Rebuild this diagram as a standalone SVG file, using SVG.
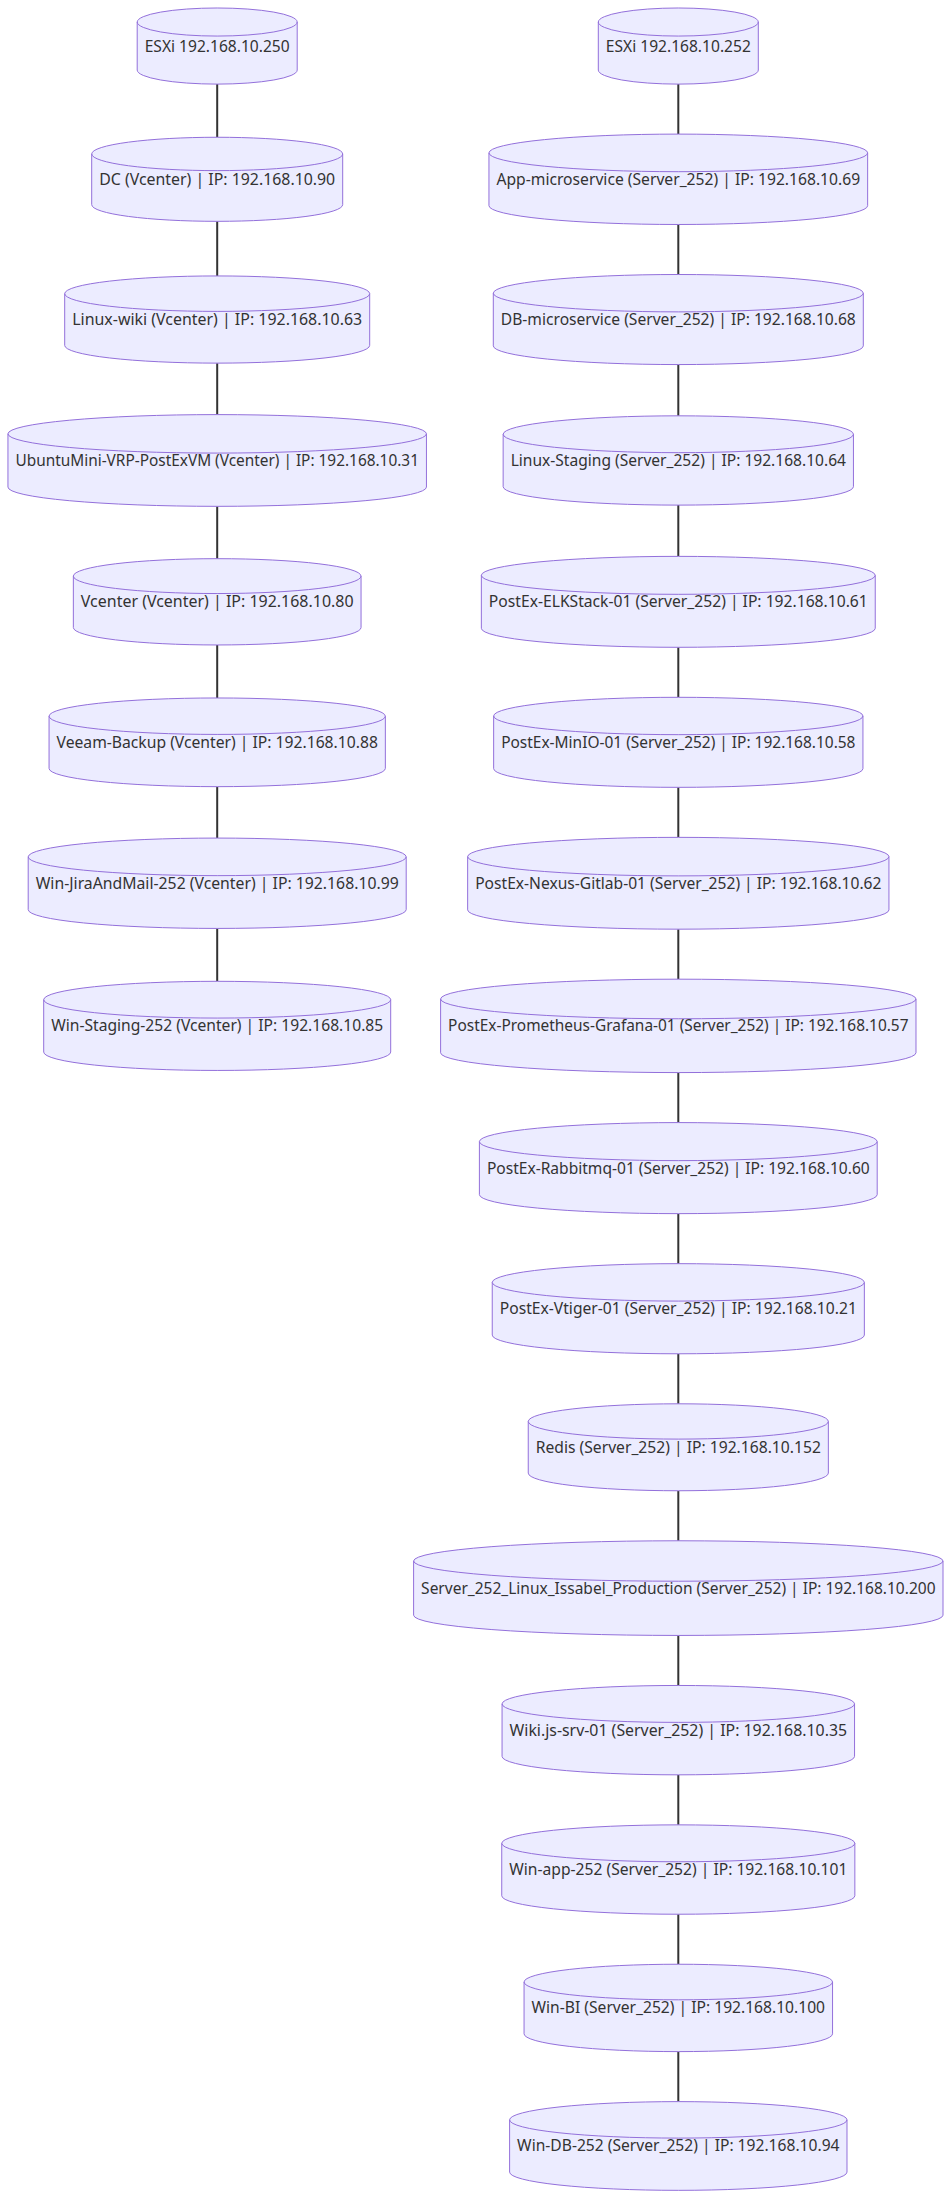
<svg xmlns="http://www.w3.org/2000/svg" width="951" height="2198" viewBox="0 0 951 2198">
<style>
.node path{fill:#ECECFF;stroke:#9370DB;stroke-width:1px}
.node text{font-family:"Noto Sans","Open Sans",sans-serif;font-size:16px;fill:#333333;text-anchor:middle}
.edges line{stroke:#333333;stroke-width:2px;fill:none}
</style>
<rect width="951" height="2198" fill="#ffffff"/>
<g class="edges">
<line x1="217.2" y1="84.1" x2="217.2" y2="137.3"/>
<line x1="217.2" y1="221.3" x2="217.2" y2="275.9"/>
<line x1="217.2" y1="363.1" x2="217.2" y2="414.6"/>
<line x1="217.2" y1="506.4" x2="217.2" y2="558.7"/>
<line x1="217.2" y1="645" x2="217.2" y2="698"/>
<line x1="217.2" y1="786.7" x2="217.2" y2="838.1"/>
<line x1="217.2" y1="928.5" x2="217.2" y2="981.3"/>
<line x1="678.3" y1="84.1" x2="678.3" y2="134.1"/>
<line x1="678.3" y1="224.5" x2="678.3" y2="274.5"/>
<line x1="678.3" y1="364.6" x2="678.3" y2="415.8"/>
<line x1="678.3" y1="505.1" x2="678.3" y2="556.4"/>
<line x1="678.3" y1="647.3" x2="678.3" y2="697.3"/>
<line x1="678.3" y1="787.3" x2="678.3" y2="837.3"/>
<line x1="678.3" y1="929.2" x2="678.3" y2="979.2"/>
<line x1="678.3" y1="1072.6" x2="678.3" y2="1122.6"/>
<line x1="678.3" y1="1213.7" x2="678.3" y2="1263.7"/>
<line x1="678.3" y1="1353.8" x2="678.3" y2="1403.8"/>
<line x1="678.3" y1="1490.8" x2="678.3" y2="1540.8"/>
<line x1="678.3" y1="1635.4" x2="678.3" y2="1685.5"/>
<line x1="678.3" y1="1774.8" x2="678.3" y2="1824.9"/>
<line x1="678.3" y1="1914.2" x2="678.3" y2="1964.2"/>
<line x1="678.3" y1="2051.6" x2="678.3" y2="2101.6"/>
</g>
<g class="node" id="esxi250" transform="translate(217.2,46.05)"><path d="M-80,-24.02a80,14.04 0 0 0 160,0a80,14.04 0 0 0 -160,0l0,48.04a80,14.04 0 0 0 160,0l0,-48.04"/><text y="5.5" textLength="145" lengthAdjust="spacingAndGlyphs">ESXi 192.168.10.250</text></g>
<g class="node" id="dc" transform="translate(217.2,179.3)"><path d="M-125.5,-25.35a125.5,16.69 0 0 0 251,0a125.5,16.69 0 0 0 -251,0l0,50.69a125.5,16.69 0 0 0 251,0l0,-50.69"/><text y="5.5" textLength="236" lengthAdjust="spacingAndGlyphs">DC (Vcenter) | IP: 192.168.10.90</text></g>
<g class="node" id="linuxwiki" transform="translate(217.2,319.54)"><path d="M-152.5,-25.87a152.5,17.73 0 0 0 305,0a152.5,17.73 0 0 0 -305,0l0,51.73a152.5,17.73 0 0 0 305,0l0,-51.73"/><text y="5.5" textLength="290" lengthAdjust="spacingAndGlyphs">Linux-wiki (Vcenter) | IP: 192.168.10.63</text></g>
<g class="node" id="ubuntumini" transform="translate(217.2,460.47)"><path d="M-209.25,-26.63a209.25,19.25 0 0 0 418.5,0a209.25,19.25 0 0 0 -418.5,0l0,53.25a209.25,19.25 0 0 0 418.5,0l0,-53.25"/><text y="5.5" textLength="403.5" lengthAdjust="spacingAndGlyphs">UbuntuMini-VRP-PostExVM (Vcenter) | IP: 192.168.10.31</text></g>
<g class="node" id="vcenter" transform="translate(217.2,601.83)"><path d="M-143.85,-25.72a143.85,17.43 0 0 0 287.7,0a143.85,17.43 0 0 0 -287.7,0l0,51.43a143.85,17.43 0 0 0 287.7,0l0,-51.43"/><text y="5.5" textLength="272.7" lengthAdjust="spacingAndGlyphs">Vcenter (Vcenter) | IP: 192.168.10.80</text></g>
<g class="node" id="veeam" transform="translate(217.2,742.32)"><path d="M-168.15,-26.12a168.15,18.23 0 0 0 336.3,0a168.15,18.23 0 0 0 -336.3,0l0,52.23a168.15,18.23 0 0 0 336.3,0l0,-52.23"/><text y="5.5" textLength="321.3" lengthAdjust="spacingAndGlyphs">Veeam-Backup (Vcenter) | IP: 192.168.10.88</text></g>
<g class="node" id="winjira" transform="translate(217.2,883.26)"><path d="M-189,-26.4a189,18.79 0 0 0 378,0a189,18.79 0 0 0 -378,0l0,52.79a189,18.79 0 0 0 378,0l0,-52.79"/><text y="5.5" textLength="363" lengthAdjust="spacingAndGlyphs">Win-JiraAndMail-252 (Vcenter) | IP: 192.168.10.99</text></g>
<g class="node" id="winstaging" transform="translate(217.2,1025.88)"><path d="M-173.5,-26.19a173.5,18.38 0 0 0 347,0a173.5,18.38 0 0 0 -347,0l0,52.38a173.5,18.38 0 0 0 347,0l0,-52.38"/><text y="5.5" textLength="332" lengthAdjust="spacingAndGlyphs">Win-Staging-252 (Vcenter) | IP: 192.168.10.85</text></g>
<g class="node" id="esxi252" transform="translate(678.3,46.05)"><path d="M-80,-24.02a80,14.04 0 0 0 160,0a80,14.04 0 0 0 -160,0l0,48.04a80,14.04 0 0 0 160,0l0,-48.04"/><text y="5.5" textLength="145" lengthAdjust="spacingAndGlyphs">ESXi 192.168.10.252</text></g>
<g class="node" id="appmicro" transform="translate(678.3,179.3)"><path d="M-189.35,-26.4a189.35,18.8 0 0 0 378.7,0a189.35,18.8 0 0 0 -378.7,0l0,52.8a189.35,18.8 0 0 0 378.7,0l0,-52.8"/><text y="5.5" textLength="363.7" lengthAdjust="spacingAndGlyphs">App-microservice (Server_252) | IP: 192.168.10.69</text></g>
<g class="node" id="dbmicro" transform="translate(678.3,319.54)"><path d="M-185,-26.35a185,18.69 0 0 0 370,0a185,18.69 0 0 0 -370,0l0,52.69a185,18.69 0 0 0 370,0l0,-52.69"/><text y="5.5" textLength="355" lengthAdjust="spacingAndGlyphs">DB-microservice (Server_252) | IP: 192.168.10.68</text></g>
<g class="node" id="linuxstaging" transform="translate(678.3,460.47)"><path d="M-175.15,-26.22a175.15,18.43 0 0 0 350.3,0a175.15,18.43 0 0 0 -350.3,0l0,52.43a175.15,18.43 0 0 0 350.3,0l0,-52.43"/><text y="5.5" textLength="335.3" lengthAdjust="spacingAndGlyphs">Linux-Staging (Server_252) | IP: 192.168.10.64</text></g>
<g class="node" id="elk" transform="translate(678.3,601.83)"><path d="M-196.95,-26.49a196.95,18.98 0 0 0 393.9,0a196.95,18.98 0 0 0 -393.9,0l0,52.98a196.95,18.98 0 0 0 393.9,0l0,-52.98"/><text y="5.5" textLength="378.9" lengthAdjust="spacingAndGlyphs">PostEx-ELKStack-01 (Server_252) | IP: 192.168.10.61</text></g>
<g class="node" id="minio" transform="translate(678.3,742.32)"><path d="M-184.65,-26.34a184.65,18.68 0 0 0 369.3,0a184.65,18.68 0 0 0 -369.3,0l0,52.68a184.65,18.68 0 0 0 369.3,0l0,-52.68"/><text y="5.5" textLength="354.3" lengthAdjust="spacingAndGlyphs">PostEx-MinIO-01 (Server_252) | IP: 192.168.10.58</text></g>
<g class="node" id="nexus" transform="translate(678.3,883.26)"><path d="M-210.65,-26.64a210.65,19.28 0 0 0 421.3,0a210.65,19.28 0 0 0 -421.3,0l0,53.28a210.65,19.28 0 0 0 421.3,0l0,-53.28"/><text y="5.5" textLength="406.3" lengthAdjust="spacingAndGlyphs">PostEx-Nexus-Gitlab-01 (Server_252) | IP: 192.168.10.62</text></g>
<g class="node" id="prometheus" transform="translate(678.3,1025.88)"><path d="M-237.7,-26.9a237.7,19.8 0 0 0 475.4,0a237.7,19.8 0 0 0 -475.4,0l0,53.8a237.7,19.8 0 0 0 475.4,0l0,-53.8"/><text y="5.5" textLength="460.4" lengthAdjust="spacingAndGlyphs">PostEx-Prometheus-Grafana-01 (Server_252) | IP: 192.168.10.57</text></g>
<g class="node" id="rabbitmq" transform="translate(678.3,1168.12)"><path d="M-198.9,-26.51a198.9,19.02 0 0 0 397.8,0a198.9,19.02 0 0 0 -397.8,0l0,53.02a198.9,19.02 0 0 0 397.8,0l0,-53.02"/><text y="5.5" textLength="382.8" lengthAdjust="spacingAndGlyphs">PostEx-Rabbitmq-01 (Server_252) | IP: 192.168.10.60</text></g>
<g class="node" id="vtiger" transform="translate(678.3,1308.73)"><path d="M-186.05,-26.36a186.05,18.71 0 0 0 372.1,0a186.05,18.71 0 0 0 -372.1,0l0,52.71a186.05,18.71 0 0 0 372.1,0l0,-52.71"/><text y="5.5" textLength="357.1" lengthAdjust="spacingAndGlyphs">PostEx-Vtiger-01 (Server_252) | IP: 192.168.10.21</text></g>
<g class="node" id="redis" transform="translate(678.3,1447.28)"><path d="M-150.05,-25.83a150.05,17.65 0 0 0 300.1,0a150.05,17.65 0 0 0 -300.1,0l0,51.65a150.05,17.65 0 0 0 300.1,0l0,-51.65"/><text y="5.5" textLength="285.1" lengthAdjust="spacingAndGlyphs">Redis (Server_252) | IP: 192.168.10.152</text></g>
<g class="node" id="issabel" transform="translate(678.3,1588.11)"><path d="M-264.7,-27.11a264.7,20.22 0 0 0 529.4,0a264.7,20.22 0 0 0 -529.4,0l0,54.22a264.7,20.22 0 0 0 529.4,0l0,-54.22"/><text y="5.5" textLength="514.4" lengthAdjust="spacingAndGlyphs">Server_252_Linux_Issabel_Production (Server_252) | IP: 192.168.10.200</text></g>
<g class="node" id="wikijs" transform="translate(678.3,1730.15)"><path d="M-176.25,-26.23a176.25,18.46 0 0 0 352.5,0a176.25,18.46 0 0 0 -352.5,0l0,52.46a176.25,18.46 0 0 0 352.5,0l0,-52.46"/><text y="5.5" textLength="337.5" lengthAdjust="spacingAndGlyphs">Wiki.js-srv-01 (Server_252) | IP: 192.168.10.35</text></g>
<g class="node" id="winapp" transform="translate(678.3,1869.54)"><path d="M-176.55,-26.23a176.55,18.46 0 0 0 353.1,0a176.55,18.46 0 0 0 -353.1,0l0,52.46a176.55,18.46 0 0 0 353.1,0l0,-52.46"/><text y="5.5" textLength="338.1" lengthAdjust="spacingAndGlyphs">Win-app-252 (Server_252) | IP: 192.168.10.101</text></g>
<g class="node" id="winbi" transform="translate(678.3,2007.93)"><path d="M-154.25,-25.9a154.25,17.79 0 0 0 308.5,0a154.25,17.79 0 0 0 -308.5,0l0,51.79a154.25,17.79 0 0 0 308.5,0l0,-51.79"/><text y="5.5" textLength="293.5" lengthAdjust="spacingAndGlyphs">Win-BI (Server_252) | IP: 192.168.10.100</text></g>
<g class="node" id="windb" transform="translate(678.3,2145.98)"><path d="M-168.7,-26.12a168.7,18.24 0 0 0 337.4,0a168.7,18.24 0 0 0 -337.4,0l0,52.24a168.7,18.24 0 0 0 337.4,0l0,-52.24"/><text y="5.5" textLength="322.4" lengthAdjust="spacingAndGlyphs">Win-DB-252 (Server_252) | IP: 192.168.10.94</text></g>
</svg>
